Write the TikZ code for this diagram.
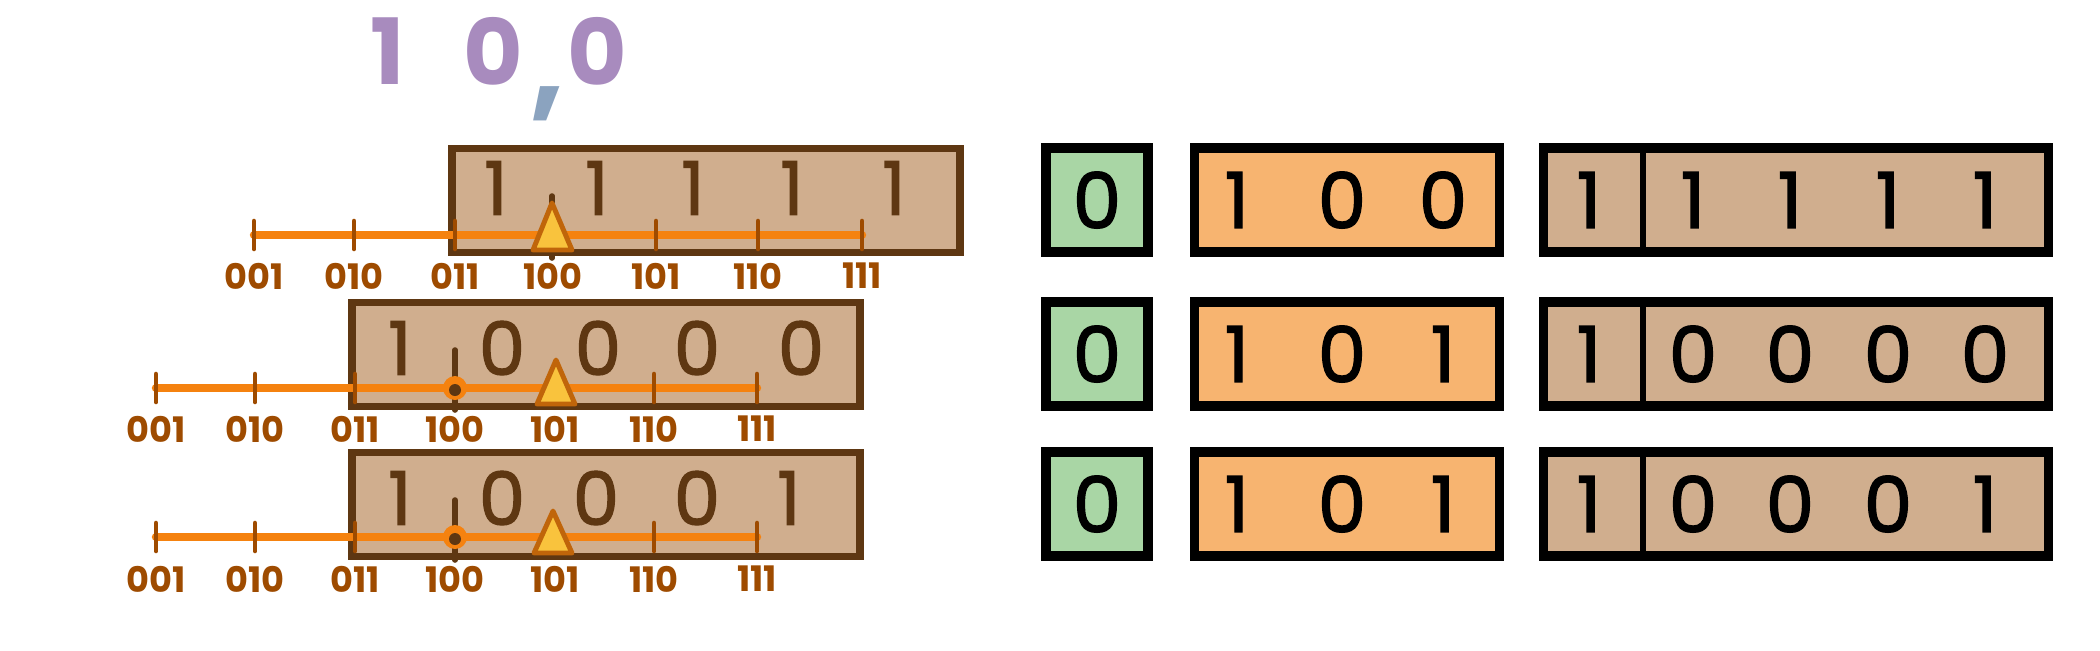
\documentclass[tikz,border=0pt]{standalone}
\usepackage{fontspec}
\setmainfont{Poppins}
\newfontfamily\digfont{Poppins}[FakeBold=1.6]
\definecolor{tanfill}{HTML}{D0AE8E}
\definecolor{bdark}{HTML}{5E3712}
\definecolor{oline}{HTML}{F5820F}
\definecolor{lbl}{HTML}{9E4B00}
\definecolor{trifill}{HTML}{F9C33D}
\definecolor{triedge}{HTML}{C0650A}
\definecolor{gfill}{HTML}{A9D6A5}
\definecolor{ofill}{HTML}{F7B470}
\definecolor{purp}{HTML}{A88BBE}
\definecolor{commac}{HTML}{8BA3BF}
\tikzset{
  lbox/.style={draw=bdark, fill=tanfill, line width=2pt, inner sep=0, minimum width=508*0.01cm, minimum height=104*0.01cm},
  rbox/.style={draw=black, line width=2.6pt, inner sep=0, minimum height=104*0.01cm},
  ldig/.style={font=\digfont\fontsize{21}{21}\selectfont, text=bdark, inner sep=0},
  rdig/.style={font=\digfont\fontsize{22}{22}\selectfont, text=black, inner sep=0},
  tlbl/.style={font=\bfseries\fontsize{10}{10}\selectfont, text=lbl, inner sep=0},
  title/.style={font=\bfseries\fontsize{26}{26}\selectfont, text=purp, inner sep=0},
  axis/.style={draw=oline, line width=2.4pt, line cap=round},
  tk/.style={draw=lbl, line width=1.3pt, line cap=round},
  darktick/.style={draw=bdark, line width=1.6pt, line cap=round},
  tri/.style={draw=triedge, fill=trifill, line width=1.4pt, line join=round},
}
\begin{document}
\begin{tikzpicture}[x=0.01cm,y=-0.01cm]
\useasboundingbox (0,0) rectangle (2100,650);

% title
\node[title] (t1) at (388,51) {1};
\node[title] (t2) at (493,51) {0};
\node[font=\bfseries\fontsize{34}{34}\selectfont, text=commac, inner sep=0] (tc) at (548,104) {,};
\node[title] (t3) at (597,51) {0};

% ---------- left row 1 ----------
\node[lbox] (L1) at (706,200) {};
\foreach \x/\d [count=\i] in {496/1,597/1,693/1,792/1,894/1}
  \node[ldig] (L1d\i) at (\x,188) {\d};
\coordinate (L1a) at (254,235);
\coordinate (L1b) at (862,235);
\draw[axis] (L1a) -- (L1b);
\foreach \x/\t [count=\i] in {254/001,354/010,455/011,553/100,656/101,758/110,862/111}{
  \draw[tk] (\x,221) -- (\x,249);
  \node[tlbl] (L1l\i) at (\x,276) {\t};
}
\draw[darktick] (552,196) -- (552,258);
\coordinate (T1) at (552,203);
\draw[tri] (T1) -- (572,250) -- (533,250) -- cycle;

% ---------- left row 2 ----------
\node[lbox] (L2) at (606,354) {};
\foreach \x/\d [count=\i] in {400/1,502/0,598/0,697/0,801/0}
  \node[ldig] (L2d\i) at (\x,348) {\d};
\coordinate (L2a) at (156,388);
\coordinate (L2b) at (757,388);
\draw[axis] (L2a) -- (L2b);
\foreach \x/\t [count=\i] in {156/001,255/010,355/011,455/100,555/101,654/110,757/111}{
  \ifnum\i=4\else\ifnum\i=5\else\draw[tk] (\x,374) -- (\x,402);\fi\fi
  \node[tlbl] (L2l\i) at (\x,429) {\t};
}
\draw[darktick] (455,350) -- (455,410);
\node[circle, fill=oline, inner sep=0, minimum size=24*0.01cm] (L2o) at (455,388) {};
\node[circle, fill=bdark, inner sep=0, minimum size=12*0.01cm] (L2c) at (455,390) {};
\coordinate (T2) at (556,360);
\draw[tri] (T2) -- (575,404) -- (537,404) -- cycle;

% ---------- left row 3 ----------
\node[lbox] (L3) at (606,504) {};
\foreach \x/\d [count=\i] in {400/1,502/0,596/0,697/0,789/1}
  \node[ldig] (L3d\i) at (\x,498) {\d};
\coordinate (L3a) at (156,537);
\coordinate (L3b) at (757,537);
\draw[axis] (L3a) -- (L3b);
\foreach \x/\t [count=\i] in {156/001,255/010,355/011,455/100,555/101,654/110,757/111}{
  \ifnum\i=4\else\ifnum\i=5\else\draw[tk] (\x,523) -- (\x,551);\fi\fi
  \node[tlbl] (L3l\i) at (\x,579) {\t};
}
\draw[darktick] (455,500) -- (455,560);
\node[circle, fill=oline, inner sep=0, minimum size=24*0.01cm] (L3o) at (455,537) {};
\node[circle, fill=bdark, inner sep=0, minimum size=12*0.01cm] (L3c) at (455,539) {};
\coordinate (T3) at (553,511);
\draw[tri] (T3) -- (572,553) -- (534,553) -- cycle;

% ---------- right side ----------
\foreach \r/\y/\g/\oa/\ob/\oc/\ba/\bb/\bc/\bd/\be in
  {1/200/0/1/0/0/1/1/1/1/1, 2/354/0/1/0/1/1/0/0/0/0, 3/504/0/1/0/1/1/0/0/0/1}{
  \node[rbox, fill=gfill, minimum width=102*0.01cm] (G\r) at (1097,\y) {};
  \node[rdig] (G\r d) at (1097,\y) {\g};
  \node[rbox, fill=ofill, minimum width=305*0.01cm] (O\r) at (1347,\y) {};
  \node[rdig] (O\r a) at (1237,\y) {\oa};
  \node[rdig] (O\r b) at (1342,\y) {\ob};
  \node[rdig] (O\r c) at (1443,\y) {\oc};
  \node[rbox, fill=tanfill, minimum width=505*0.01cm] (B\r) at (1796,\y) {};
  \draw[line width=1.8pt] (1643,\y) ++(0,-52) coordinate (B\r top) -- ++(0,104) coordinate (B\r bot);
  \node[rdig] (B\r a) at (1589,\y) {\ba};
  \node[rdig] (B\r b) at (1693,\y) {\bb};
  \node[rdig] (B\r c) at (1790,\y) {\bc};
  \node[rdig] (B\r d) at (1888,\y) {\bd};
  \node[rdig] (B\r e) at (1985,\y) {\be};
}
\end{tikzpicture}
\end{document}
